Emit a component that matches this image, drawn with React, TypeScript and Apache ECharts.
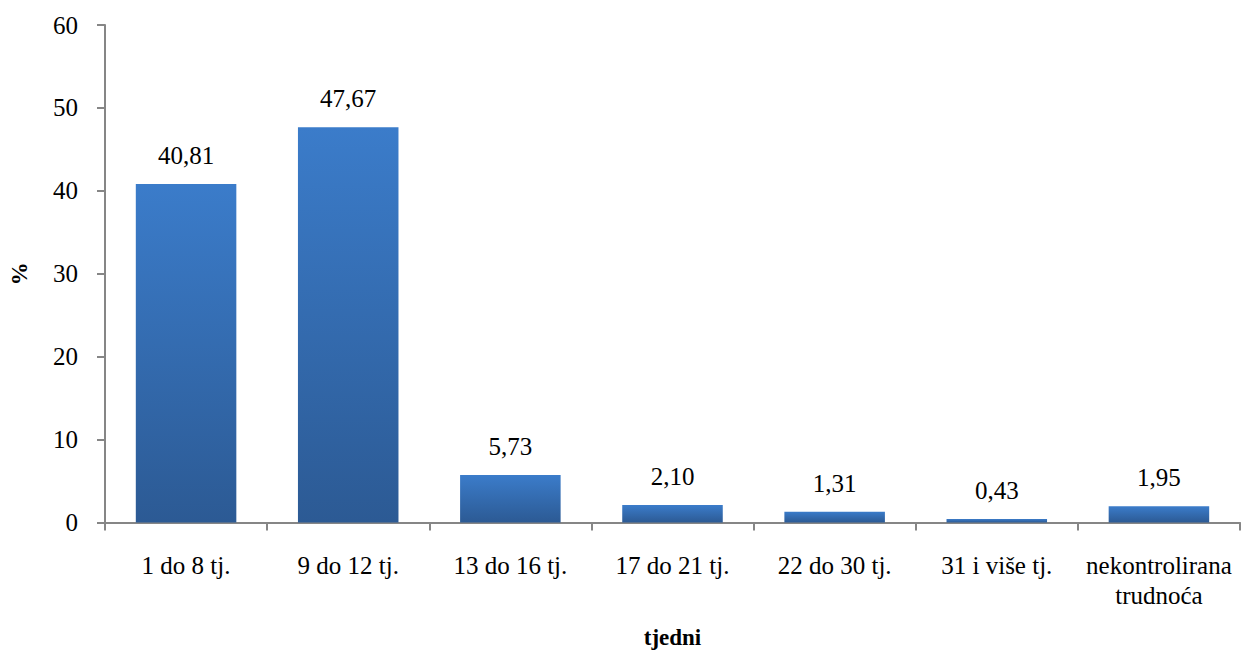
import React, { useEffect, useRef } from "react";
import * as echarts from "echarts";

const categories = [
  "1 do 8 tj.",
  "9 do 12 tj.",
  "13 do 16 tj.",
  "17 do 21 tj.",
  "22 do 30 tj.",
  "31 i više tj.",
  "nekontrolirana\ntrudnoća",
];
const values = [40.81, 47.67, 5.73, 2.1, 1.31, 0.43, 1.95];
const yTicks = { min: 0, max: 60, interval: 10 };

export default function App() {
  const ref = useRef<HTMLDivElement>(null);
  useEffect(() => {
    if (!ref.current) return;
    const chart = echarts.init(ref.current, undefined, { renderer: "svg" });
    const font = "Liberation Serif";
    chart.setOption({
      animation: false,
      textStyle: { fontFamily: font },
      grid: {
        left: 105,
        right: 3,
        top: 25,
        bottom: 130.5,
        containLabel: false,
        outerBoundsMode: "none",
      },
      xAxis: {
        type: "category",
        data: categories,
        name: "tjedni",
        nameLocation: "middle",
        nameGap: 103,
        nameMoveOverlap: false,
        nameTextStyle: { fontFamily: font, fontSize: 23, fontWeight: "bold", color: "#000" },
        axisLine: { lineStyle: { color: "#868686", width: 2 } },
        axisTick: { show: true, length: 8, lineStyle: { color: "#868686", width: 2 } },
        axisLabel: {
          fontFamily: font,
          fontSize: 25,
          color: "#000",
          margin: 28,
          lineHeight: 30,
          interval: 0,
        },
      },
      yAxis: {
        type: "value",
        min: yTicks.min,
        max: yTicks.max,
        interval: yTicks.interval,
        name: "%",
        nameLocation: "middle",
        nameGap: 74,
        nameRotate: 90,
        nameMoveOverlap: false,
        nameTextStyle: { fontFamily: font, fontSize: 23, fontWeight: "bold", color: "#000" },
        axisLine: { show: true, lineStyle: { color: "#868686", width: 2 } },
        axisTick: { show: true, length: 8, lineStyle: { color: "#868686", width: 2 } },
        splitLine: { show: false },
        axisLabel: { fontFamily: font, fontSize: 25, color: "#000", margin: 27 },
      },
      series: [
        {
          type: "bar",
          data: values,
          barCategoryGap: "38%",
          itemStyle: {
            color: new echarts.graphic.LinearGradient(0, 0, 0, 1, [
              { offset: 0, color: "#3B7CCA" },
              { offset: 1, color: "#2C5A94" },
            ]),
          },
          label: {
            show: true,
            position: "top",
            distance: 16,
            fontFamily: font,
            fontSize: 25,
            color: "#000",
            formatter: (p: any) => p.value.toFixed(2).replace(".", ","),
          },
        },
      ],
    });
    return () => chart.dispose();
  }, []);
  return (
    <div
      ref={ref}
      style={{ position: "fixed", left: 0, top: 0, width: 1243, height: 653, background: "#fff" }}
    />
  );
}
